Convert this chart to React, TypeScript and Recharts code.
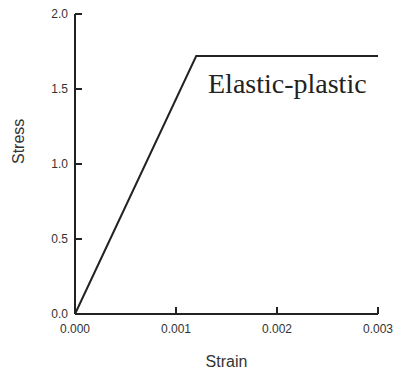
import React from "react";
import { LineChart, Line, XAxis, YAxis } from "recharts";

// strain / stress points of the elastic-plastic curve
const strain = [0, 0.0012, 0.003];
const stress = [0, 1.72, 1.72];
const xTicks = [0, 0.001, 0.002, 0.003];
const yTicks = [0, 0.5, 1.0, 1.5, 2.0];

const data = strain.map((s, i) => ({ strain: s, stress: stress[i] }));

const INK = "#222";
const TICK_FONT = "'Liberation Sans', Arial, sans-serif";

// ticks point inward, so draw the mark ourselves next to the label
const XTick = (props: any) => {
  const { x, y, payload } = props;
  return (
    <g>
      <line x1={x} y1={y} x2={x} y2={y - 7} stroke={INK} strokeWidth={2} />
      <text
        x={x}
        y={y + 19}
        textAnchor="middle"
        fontSize={12}
        fill="#333"
        fontFamily={TICK_FONT}
      >
        {Number(payload.value).toFixed(3)}
      </text>
    </g>
  );
};

const YTick = (props: any) => {
  const { x, y, payload } = props;
  return (
    <g>
      <line x1={x} y1={y} x2={x + 7} y2={y} stroke={INK} strokeWidth={2} />
      <text
        x={x - 7}
        y={y + 4}
        textAnchor="end"
        fontSize={12}
        fill="#333"
        fontFamily={TICK_FONT}
      >
        {Number(payload.value).toFixed(1)}
      </text>
    </g>
  );
};

export default function App() {
  return (
    <div
      style={{
        position: "absolute",
        left: 0,
        top: 0,
        width: 398,
        height: 373,
        background: "#fff",
      }}
    >
      <LineChart
        width={398}
        height={373}
        data={data}
        margin={{ top: 14, right: 20, bottom: 0, left: 0 }}
      >
        <XAxis
          dataKey="strain"
          type="number"
          domain={[0, 0.003]}
          ticks={xTicks}
          height={59}
          tickSize={0}
          tickMargin={0}
          tick={<XTick />}
          axisLine={{ stroke: INK, strokeWidth: 2 }}
          label={{
            value: "Strain",
            position: "insideBottom",
            offset: 6,
            fontSize: 16,
            fill: "#333",
            fontFamily: TICK_FONT,
          }}
        />
        <YAxis
          type="number"
          domain={[0, 2]}
          ticks={yTicks}
          width={75}
          tickSize={0}
          tickMargin={0}
          tick={<YTick />}
          axisLine={{ stroke: INK, strokeWidth: 2 }}
          label={{
            value: "Stress",
            angle: -90,
            position: "insideLeft",
            offset: 18,
            fontSize: 16,
            fill: "#333",
            fontFamily: TICK_FONT,
          }}
        />
        <Line
          dataKey="stress"
          stroke={INK}
          strokeWidth={2}
          dot={false}
          isAnimationActive={false}
        />
      </LineChart>
      <div
        style={{
          position: "absolute",
          left: 208,
          top: 66,
          fontFamily: "'Liberation Serif', 'Times New Roman', serif",
          fontSize: 28,
          color: "#222",
          lineHeight: "36px",
          whiteSpace: "nowrap",
        }}
      >
        Elastic-plastic
      </div>
    </div>
  );
}
